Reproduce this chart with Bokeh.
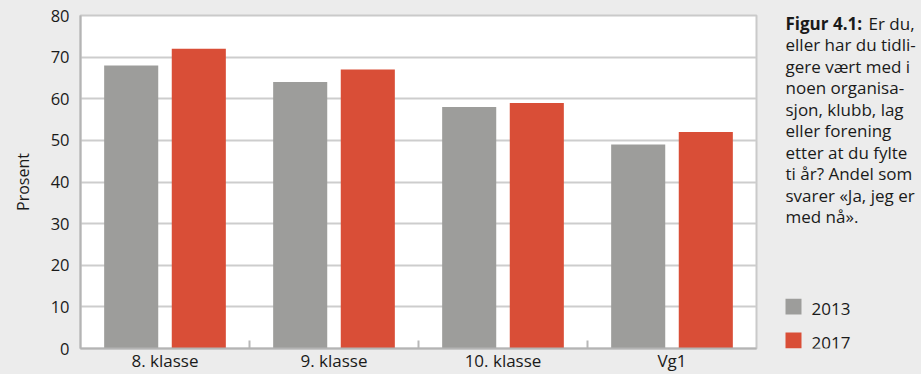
from bokeh.plotting import figure
from bokeh.layouts import row
from bokeh.models import FactorRange
from bokeh.transform import dodge
from bokeh.core.properties import value
from bokeh.embed import file_html
from bokeh.resources import INLINE

# Data
categories = ["8. klasse", "9. klasse", "10. klasse", "Vg1"]
series_names = ["2013", "2017"]
values_2013 = [68, 64, 58, 49]
values_2017 = [72, 67, 59, 52]
y_ticks = [0, 10, 20, 30, 40, 50, 60, 70, 80]

caption_head = "Figur 4.1:"
caption_lines = [
    "Er du,",
    "eller har du tidli-",
    "gere vært med i",
    "noen organisa-",
    "sjon, klubb, lag",
    "eller forening",
    "etter at du fylte",
    "ti år? Andel som",
    "svarer «Ja, jeg er",
    "med nå».",
]

FONT = "Open Sans"
TEXT = "#1a1a1a"
GRAY = "#9d9d9b"
RED = "#d94e37"
BG = "#ececec"
series_colors = [GRAY, RED]

H = 374
MAIN_W, SIDE_W = 758, 163
TOP, BOTTOM = 15, 25

# ---- bar chart ----
p = figure(
    width=MAIN_W, height=H,
    x_range=FactorRange(*categories, range_padding=0),
    y_range=(0, 80),
    output_backend="svg", toolbar_location=None,
    min_border_left=80, min_border_right=2,
    min_border_top=TOP, min_border_bottom=BOTTOM,
    border_fill_color=BG, background_fill_color="white",
    outline_line_color="#cacaca", outline_line_width=2,
)

source = dict(cat=categories, v2013=values_2013, v2017=values_2017)
p.vbar(x=dodge("cat", -0.2, range=p.x_range), top="v2013", width=0.32,
       source=source, fill_color=GRAY, line_color=None)
p.vbar(x=dodge("cat", 0.2, range=p.x_range), top="v2017", width=0.32,
       source=source, fill_color=RED, line_color=None)

# small ticks at the boundaries between categories
p.segment(x0=dodge("cat", -0.5, range=p.x_range), x1=dodge("cat", -0.5, range=p.x_range),
          y0=0, y1=1.9, source=dict(cat=categories[1:]),
          line_color="#b8b8b8", line_width=2)

p.ygrid.ticker = y_ticks
p.ygrid.grid_line_color = "#cdcdcd"
p.ygrid.grid_line_width = 2
p.xgrid.grid_line_color = None

p.yaxis.ticker = y_ticks
p.yaxis.axis_line_color = "#b4b4b4"
p.yaxis.axis_line_width = 2
p.yaxis.major_tick_line_color = None
p.yaxis.major_tick_out = 0
p.yaxis.major_tick_in = 0
p.yaxis.minor_tick_line_color = None
p.yaxis.major_label_text_font = FONT
p.yaxis.major_label_text_font_size = "16.5px"
p.yaxis.major_label_text_color = TEXT
p.yaxis.major_label_standoff = 11
p.yaxis.axis_label = "Prosent"
p.yaxis.axis_label_text_font = FONT
p.yaxis.axis_label_text_font_style = "normal"
p.yaxis.axis_label_text_font_size = "16px"
p.yaxis.axis_label_text_color = TEXT
p.yaxis.axis_label_standoff = 14

p.xaxis.axis_line_color = "#b4b4b4"
p.xaxis.axis_line_width = 2
p.xaxis.major_tick_line_color = None
p.xaxis.major_tick_out = 0
p.xaxis.major_tick_in = 0
p.xaxis.major_label_text_font = FONT
p.xaxis.major_label_text_font_size = "17px"
p.xaxis.major_label_text_color = TEXT
p.xaxis.major_label_standoff = 0

# ---- caption and legend panel ----
# The row gives this panel the same top and bottom borders as the chart, so the
# y range spans exactly the frame: one data unit is one pixel from the top.
side = figure(
    width=SIDE_W, height=H, x_range=(0, SIDE_W), y_range=(H - BOTTOM, TOP),
    title=None, x_axis_location=None, y_axis_location=None,
    output_backend="svg", toolbar_location=None,
    min_border_left=0, min_border_right=0,
    min_border_top=TOP, min_border_bottom=BOTTOM,
    border_fill_color=BG, background_fill_color=BG,
    outline_line_color=None,
)
side.grid.visible = False

# text glyphs sit a few pixels below their anchor, so anchors are raised
text_lift = 6
cap_x = 27
first_base = 29 - text_lift
pitch = 21.55
head_w = 83
side.text(x=[cap_x], y=[first_base], text=[caption_head],
          text_font=value(FONT), text_font_style="bold", text_font_size="17px",
          text_color=TEXT, text_baseline="alphabetic")
side.text(x=[cap_x + head_w if i == 0 else cap_x for i in range(len(caption_lines))],
          y=[first_base + i * pitch for i in range(len(caption_lines))],
          text=caption_lines,
          text_font=value(FONT), text_font_size="17px",
          text_color=TEXT, text_baseline="alphabetic")

# legend: colour swatch and year for each series
key_mid = 307
key_pitch = 34
key_y = [key_mid + i * key_pitch for i in range(len(series_names))]
side.rect(x=[cap_x + 8] * len(series_names), y=key_y, width=16, height=16,
          fill_color=series_colors, line_color=None)
side.text(x=[cap_x + 26] * len(series_names), y=[y + 8 - text_lift for y in key_y],
          text=series_names, text_font=value(FONT), text_font_size="17px",
          text_color=TEXT, text_baseline="alphabetic")

layout = row(p, side, spacing=0, styles={"background-color": BG})
open("out.html", "w").write(file_html(layout, INLINE))
